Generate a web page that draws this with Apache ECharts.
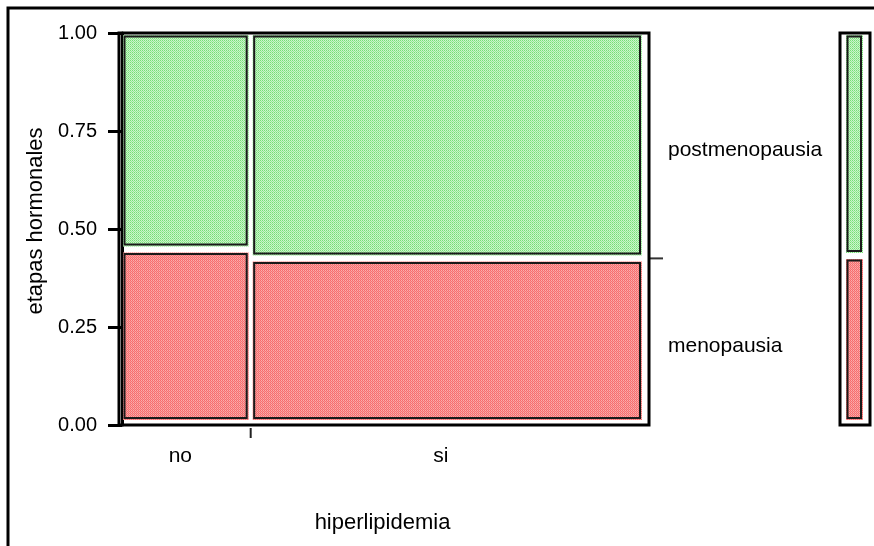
<!DOCTYPE html>
<html>
<head>
<meta charset="utf-8">
<script src="https://cdn.jsdelivr.net/npm/echarts@6/dist/echarts.min.js"></script>
<style>
  html, body { margin: 0; padding: 0; background: #fff; }
  #chart { width: 874px; height: 546px; }
</style>
</head>
<body>
<div id="chart"></div>
<script>
// Mosaic plot: etapas hormonales by hiperlipidemia
const categories = ['no', 'si'];
const levels = ['menopausia', 'postmenopausia'];
const columnShare = [0.247, 0.753];          // share of each hiperlipidemia group
const menopausiaShare = [0.448, 0.425];      // share of menopausia inside each group
const marginalMenopausia = 0.431;            // overall share of menopausia
const yTicks = [0, 0.25, 0.5, 0.75, 1];

const FONT = '"Liberation Sans", Arial, sans-serif';

function makePattern(a, b, c, d) {
  const cv = document.createElement('canvas');
  cv.width = 2; cv.height = 2;
  const ctx = cv.getContext('2d');
  ctx.fillStyle = a; ctx.fillRect(0, 0, 1, 1);
  ctx.fillStyle = b; ctx.fillRect(1, 0, 1, 1);
  ctx.fillStyle = c; ctx.fillRect(0, 1, 1, 1);
  ctx.fillStyle = d; ctx.fillRect(1, 1, 1, 1);
  return { image: cv, repeat: 'repeat' };
}
const fills = {
  menopausia: makePattern('rgb(244,108,108)', 'rgb(255,172,172)', 'rgb(255,150,150)', 'rgb(238,118,118)'),
  postmenopausia: makePattern('rgb(118,222,118)', 'rgb(205,246,205)', 'rgb(200,244,200)', 'rgb(150,232,150)')
};

// cells: [x0, x1, y0, y1, levelIndex]
const cells = [];
let acc = 0;
categories.forEach((c, i) => {
  const x0 = acc, x1 = acc + columnShare[i];
  cells.push([x0, x1, 0, menopausiaShare[i], 0]);
  cells.push([x0, x1, menopausiaShare[i], 1, 1]);
  acc = x1;
});
const marginalCells = [
  [0, 1, 0, marginalMenopausia, 0],
  [0, 1, marginalMenopausia, 1, 1]
];

function cellRect(api, d, leftPad, rightPad) {
  const p0 = api.coord([d[0], d[2]]);
  const p1 = api.coord([d[1], d[3]]);
  const l = p0[0] + (d[0] === 0 ? leftPad : 2);
  const r = p1[0] - (d[1] >= 0.9999 ? rightPad : 2);
  const t = p1[1] + (d[3] >= 0.9999 ? 2 : 3);
  const b = p0[1] - (d[2] === 0 ? 5 : 3);
  return { x: l, y: t, width: r - l, height: b - t };
}

function cellGroup(rc, level) {
  return [
    { type: 'rect', shape: rc, style: { fill: fills[level], stroke: null } },
    { type: 'rect', shape: { x: rc.x + 1.5, y: rc.y + 1.5, width: rc.width - 3.5, height: rc.height - 3.5 },
      style: { fill: null, stroke: '#1a1a1a', lineWidth: 2 } }
  ];
}

function renderMain(params, api) {
  const d = cells[params.dataIndex];
  const level = levels[d[4]];
  const children = cellGroup(cellRect(api, d, 1, 1), level);
  const colIdx = Math.floor(params.dataIndex / 2);
  if (d[4] === 0) {
    // category label under the column
    const base = api.coord([(d[0] + d[1]) / 2, 0]);
    children.push({ type: 'text', x: base[0] - 6, y: base[1] + 31,
      style: { text: categories[colIdx], font: '21px ' + FONT, fill: '#000', align: 'center', verticalAlign: 'middle' } });
    if (colIdx < categories.length - 1) {
      const s = api.coord([d[1], 0]);
      children.push({ type: 'line', shape: { x1: s[0], y1: s[1] + 3, x2: s[0], y2: s[1] + 13 },
        style: { stroke: '#222', lineWidth: 2 } });
    }
  }
  if (colIdx === categories.length - 1) {
    // level labels beside the last column
    const mid = api.coord([1, (d[2] + d[3]) / 2]);
    children.push({ type: 'text', x: mid[0] + 25, y: mid[1] + 5,
      style: { text: level, font: '21px ' + FONT, fill: '#000', align: 'left', verticalAlign: 'middle' } });
    if (d[4] === 0) {
      const e = api.coord([1, d[3]]);
      children.push({ type: 'line', shape: { x1: e[0] + 6, y1: e[1], x2: e[0] + 20, y2: e[1] },
        style: { stroke: '#333', lineWidth: 2 } });
    }
  }
  if (params.dataIndex === 0) {
    const a = api.coord([0, 1]);
    const b = api.coord([1, 0]);
    children.push({ type: 'rect', shape: { x: a[0] - 3, y: a[1], width: b[0] - a[0] + 9, height: b[1] - a[1] },
      style: { fill: null, stroke: '#000', lineWidth: 3 }, z2: 10 });
  }
  return { type: 'group', children };
}

function renderMarginal(params, api) {
  const d = marginalCells[params.dataIndex];
  const level = levels[d[4]];
  const a = api.coord([0, d[2]]);
  const b = api.coord([1, d[3]]);
  const l = a[0] + 6, r = a[0] + 23;
  const t = b[1] + (d[3] >= 0.9999 ? 2 : 3);
  const bt = a[1] - (d[2] === 0 ? 5 : 3);
  const children = cellGroup({ x: l, y: t, width: r - l, height: bt - t }, level);
  if (params.dataIndex === 0) {
    const p = api.coord([0, 1]);
    const q = api.coord([1, 0]);
    children.push({ type: 'rect', shape: { x: p[0], y: p[1], width: q[0] - p[0], height: q[1] - p[1] },
      style: { fill: null, stroke: '#000', lineWidth: 3 } });
  }
  return { type: 'group', children };
}

const chart = echarts.init(document.getElementById('chart'), null, { renderer: 'canvas' });
chart.setOption({
  animation: false,
  backgroundColor: '#fff',
  graphic: [{
    type: 'polyline',
    shape: { points: [[8, 546], [8, 8], [874, 8]] },
    style: { stroke: '#000', lineWidth: 3, fill: null }
  }],
  grid: [
    { left: 122, top: 33, width: 521, height: 392 },
    { left: 840, top: 33, width: 30, height: 392 }
  ],
  xAxis: [
    { type: 'value', gridIndex: 0, min: 0, max: 1,
      axisLine: { show: false }, axisTick: { show: false }, axisLabel: { show: false }, splitLine: { show: false },
      name: 'hiperlipidemia', nameLocation: 'middle', nameGap: 87,
      nameTextStyle: { fontFamily: FONT, fontSize: 22, color: '#000' } },
    { type: 'value', gridIndex: 1, min: 0, max: 1, show: false }
  ],
  yAxis: [
    { type: 'value', gridIndex: 0, min: 0, max: 1, interval: 0.25, offset: 3,
      axisLine: { show: true, lineStyle: { color: '#000', width: 3 } },
      axisTick: { show: true, length: 14, lineStyle: { color: '#000', width: 3 }, customValues: yTicks },
      axisLabel: { margin: 22, fontFamily: FONT, fontSize: 20, color: '#000', formatter: v => v.toFixed(2), customValues: yTicks },
      splitLine: { show: false },
      name: 'etapas hormonales', nameLocation: 'middle', nameGap: 72,
      nameTextStyle: { fontFamily: FONT, fontSize: 22, color: '#000', padding: [0, 0, 0, 16] } },
    { type: 'value', gridIndex: 1, min: 0, max: 1, show: false }
  ],
  series: [
    { type: 'custom', xAxisIndex: 0, yAxisIndex: 0, renderItem: renderMain, data: cells, clip: false },
    { type: 'custom', xAxisIndex: 1, yAxisIndex: 1, renderItem: renderMarginal, data: marginalCells, clip: false }
  ]
});
</script>
</body>
</html>
